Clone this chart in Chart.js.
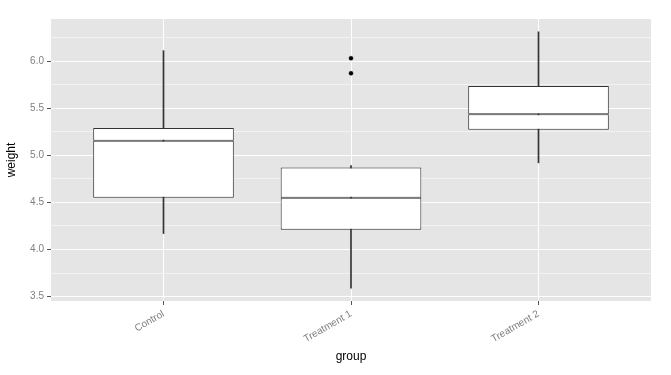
<!DOCTYPE html>
<html>
<head>
<meta charset="utf-8">
<title>weight by group</title>
<script src="https://cdn.jsdelivr.net/npm/chart.js@4/dist/chart.umd.min.js"></script>
<style>
  html, body { margin: 0; padding: 0; background: #fff; }
</style>
</head>
<body>
<canvas id="chart" width="671" height="375"></canvas>
<script>
// data
const groups = ['Control', 'Treatment 1', 'Treatment 2']
const groupPos = [1, 2, 3]
const lowerWhisker = [4.17, 3.59, 4.92]
const lowerHinge = [4.55, 4.21, 5.27]
const medians = [5.155, 4.55, 5.435]
const upperHinge = [5.29, 4.87, 5.735]
const upperWhisker = [6.11, 4.89, 6.31]
const outlierGroup = [2, 2]
const outlierValues = [5.87, 6.03]

const yMajorTicks = [3.5, 4.0, 4.5, 5.0, 5.5, 6.0]
const yTickLabels = ['3.5', '4.0', '4.5', '5.0', '5.5', '6.0']
const yMinorTicks = [3.75, 4.25, 4.75, 5.25, 5.75, 6.25]

const isMajor = (v) => yMajorTicks.some(m => Math.abs(m - v) < 1e-6)

// grey panel behind the plot like ggplot's theme_grey
const panelBackground = {
    id: 'panelBackground',
    beforeDraw(chart) {
        const { ctx, chartArea } = chart
        ctx.save()
        ctx.fillStyle = '#E5E5E5'
        ctx.fillRect(chartArea.left, chartArea.top, chartArea.right - chartArea.left, chartArea.bottom - chartArea.top)
        ctx.restore()
    }
}

const ctx = document.getElementById('chart').getContext('2d')
new Chart(ctx, {
    type: 'bar',
    data: {
        datasets: [
            {
                // lower half of the box, its top border is half of the median line
                label: 'lower box',
                data: groupPos.map((x, i) => ({ x: x, y: [lowerHinge[i], medians[i]] })),
                backgroundColor: '#FFFFFF',
                borderColor: '#333333',
                borderWidth: 1,
                borderSkipped: false,
                grouped: false,
                barPercentage: 0.75,
                categoryPercentage: 1
            },
            {
                label: 'upper box',
                data: groupPos.map((x, i) => ({ x: x, y: [medians[i], upperHinge[i]] })),
                backgroundColor: '#FFFFFF',
                borderColor: '#333333',
                borderWidth: 1,
                borderSkipped: false,
                grouped: false,
                barPercentage: 0.75,
                categoryPercentage: 1
            },
            {
                type: 'scatter',
                label: 'outliers',
                data: outlierGroup.map((x, i) => ({ x: x, y: outlierValues[i] })),
                backgroundColor: '#000000',
                borderColor: '#000000',
                pointRadius: 2,
                borderWidth: 0.5
            },
            {
                // whiskers sit behind the boxes
                label: 'whiskers',
                data: groupPos.map((x, i) => ({ x: x, y: [lowerWhisker[i], upperWhisker[i]] })),
                backgroundColor: '#333333',
                borderWidth: 0,
                barThickness: 1,
                grouped: false
            }
        ]
    },
    options: {
        responsive: false,
        animation: false,
        layout: {
            padding: { top: 19, right: 20, bottom: 7, left: 0 }
        },
        plugins: {
            legend: { display: false },
            tooltip: { enabled: false }
        },
        scales: {
            x: {
                type: 'linear',
                min: 0.4,
                max: 3.6,
                offset: false,
                afterBuildTicks: (scale) => {
                    scale.ticks = groupPos.map(v => ({ value: v }))
                },
                afterFit: (scale) => { scale.height = 67 },
                grid: {
                    offset: false,
                    color: '#FFFFFF',
                    lineWidth: 1,
                    tickLength: 4,
                    tickColor: '#555555'
                },
                border: { display: false },
                ticks: {
                    minRotation: 30,
                    maxRotation: 30,
                    padding: 3,
                    color: '#7F7F7F',
                    font: { family: 'Liberation Sans, Arial, sans-serif', size: 10 },
                    callback: (v) => groups[v - 1]
                },
                title: {
                    display: true,
                    text: 'group',
                    color: '#000000',
                    font: { family: 'Liberation Sans, Arial, sans-serif', size: 12 },
                    padding: { top: 4, bottom: 4 }
                }
            },
            y: {
                min: 3.454,
                max: 6.446,
                afterBuildTicks: (scale) => {
                    scale.ticks = [...yMajorTicks, ...yMinorTicks].sort((a, b) => a - b).map(v => ({ value: v }))
                },
                afterFit: (scale) => { scale.width = 51 },
                grid: {
                    color: (c) => isMajor(c.tick.value) ? '#FFFFFF' : '#F2F2F2',
                    lineWidth: 1,
                    tickLength: 4,
                    tickColor: (c) => isMajor(c.tick.value) ? '#555555' : 'rgba(0,0,0,0)'
                },
                border: { display: false },
                ticks: {
                    padding: 3,
                    color: '#7F7F7F',
                    font: { family: 'Liberation Sans, Arial, sans-serif', size: 10 },
                    callback: (v) => {
                        const idx = yMajorTicks.findIndex(m => Math.abs(m - v) < 1e-6)
                        return idx >= 0 ? yTickLabels[idx] : ''
                    }
                },
                title: {
                    display: true,
                    text: 'weight',
                    color: '#000000',
                    font: { family: 'Liberation Sans, Arial, sans-serif', size: 12 },
                    padding: { top: 4, bottom: 4 }
                }
            }
        }
    },
    plugins: [panelBackground]
})
</script>
</body>
</html>
